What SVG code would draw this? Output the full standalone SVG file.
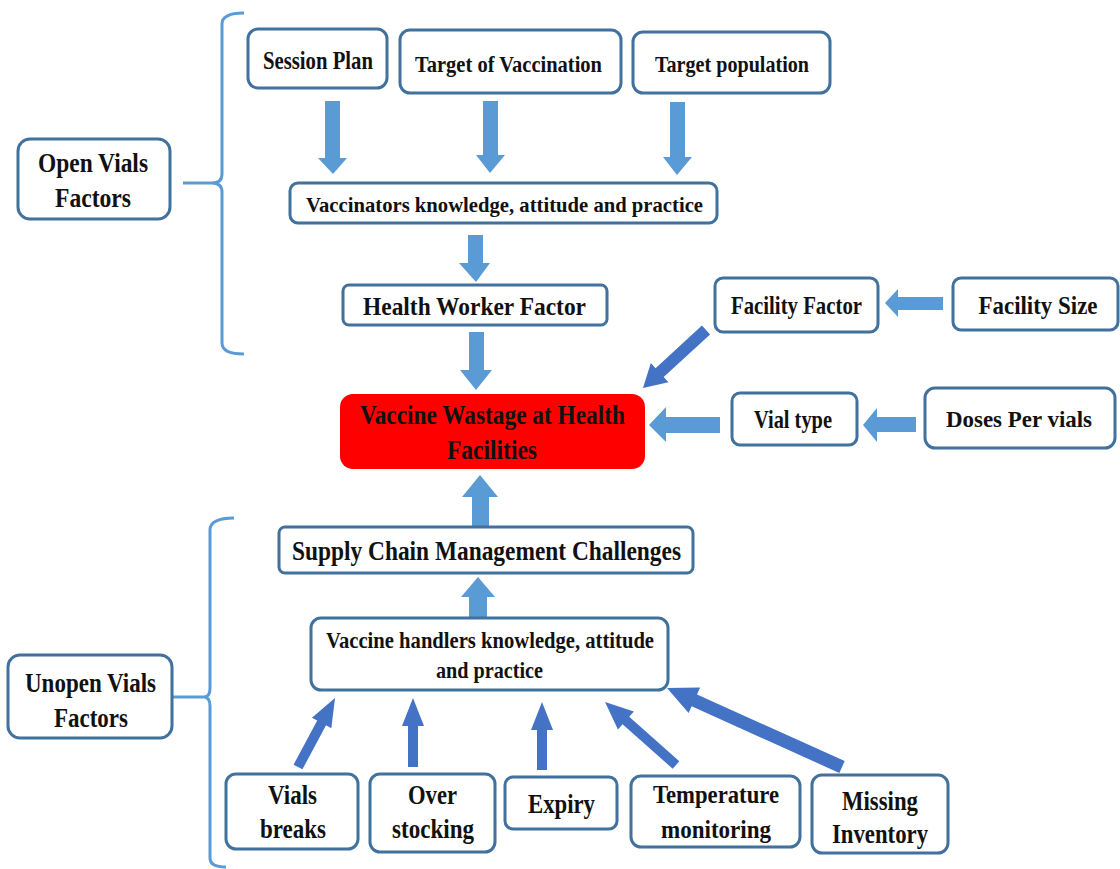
<svg xmlns="http://www.w3.org/2000/svg" width="1120" height="869" viewBox="0 0 1120 869">
<style>
.box{fill:#ffffff;stroke:#41719c;stroke-width:3}
.t{font-family:"Liberation Serif","Times New Roman",serif;font-weight:bold;fill:#111;text-anchor:middle}
.br{fill:none;stroke:#5b9bd5;stroke-width:3}
.a1{fill:#5b9bd5}
.a2{fill:#4472c4}
</style>
<rect width="1120" height="869" fill="#ffffff"/>

<g id="brackets">
<path class="br" d="M244,13 Q222,13 222,24 L222,174 Q222,183 212,183 Q222,183 222,192 L222,343 Q222,354 244,354"/>
<path class="br" d="M183,183 L212,183"/>
<path class="br" d="M234,518 Q210,518 210,530 L210,688 Q210,697 204,697 Q210,697 210,706 L210,858 Q210,867 226,867"/>
<path class="br" d="M172,697 L204,697"/>
</g>

<g id="connectors">
<polygon class="a1" points="325,101 340,101 340,158 347,158 333,174 318,158 325,158"/>
<polygon class="a1" points="483,101 498,101 498,155 505,155 490,173 476,155 483,155"/>
<polygon class="a1" points="670,102 685,102 685,157 692,157 677,175 663,157 670,157"/>
<polygon class="a1" points="468,235 483,235 483,263 490,263 476,282 459,263 468,263"/>
<polygon class="a1" points="469,332 484,332 484,370 492,370 476,390 460,370 469,370"/>
<polygon class="a1" points="472,526 489,526 489,497 498,497 480,475 462,497 472,497"/>
<polygon class="a1" points="469,618 487,618 487,597 495,597 478,577 461,597 469,597"/>
<polygon class="a1" points="943,297 898,297 898,289 885,303 898,317 898,310 943,310"/>
<polygon class="a1" points="916,417 877,417 877,408 863,425 877,442 877,432 916,432"/>
<polygon class="a1" points="720,417 666,417 666,407 649,425 666,442 666,433 720,433"/>
<path class="a2" transform="translate(706,330) rotate(137.4)" d="M0,-6 L63,-6 L63,-13 L85.6,0 L63,13 L63,6 L0,6 Z"/>
<path class="a2" transform="translate(298,767) rotate(-61.8)" d="M0,-5 L50,-5 L50,-11 L78.3,0 L50,11 L50,5 L0,5 Z"/>
<path class="a2" transform="translate(413,767) rotate(-90)" d="M0,-5 L41,-5 L41,-11 L69,0 L41,11 L41,5 L0,5 Z"/>
<path class="a2" transform="translate(542,770) rotate(-90)" d="M0,-5 L40,-5 L40,-11 L68,0 L40,11 L40,5 L0,5 Z"/>
<path class="a2" transform="translate(676,765) rotate(-138.4)" d="M0,-5 L67,-5 L67,-12 L94.9,0 L67,12 L67,5 L0,5 Z"/>
<path class="a2" transform="translate(842,767) rotate(-155.7)" d="M0,-6.5 L162,-6.5 L162,-14 L192,0 L162,14 L162,6.5 L0,6.5 Z"/>
</g>

<g id="open-vials-factors">
<rect class="box" x="18" y="139" width="152" height="80" rx="12"/>
<text class="t" x="93" y="172" font-size="28" textLength="110" lengthAdjust="spacingAndGlyphs">Open Vials</text>
<text class="t" x="93" y="207" font-size="28" textLength="76" lengthAdjust="spacingAndGlyphs">Factors</text>
</g>

<g id="session-plan">
<rect class="box" x="248" y="29" width="139" height="59" rx="10"/>
<text class="t" x="318" y="69" font-size="25" textLength="110" lengthAdjust="spacingAndGlyphs">Session Plan</text>
</g>

<g id="target-of-vaccination">
<rect class="box" x="400" y="30" width="221" height="63" rx="10"/>
<text class="t" x="508.5" y="72" font-size="24" textLength="187" lengthAdjust="spacingAndGlyphs">Target of Vaccination</text>
</g>

<g id="target-population">
<rect class="box" x="633" y="32" width="197" height="61" rx="10"/>
<text class="t" x="732" y="72" font-size="24" textLength="154" lengthAdjust="spacingAndGlyphs">Target population</text>
</g>

<g id="vaccinators-kap">
<rect class="box" x="290" y="183" width="427" height="40" rx="8"/>
<text class="t" x="504.5" y="212" font-size="22" textLength="397" lengthAdjust="spacingAndGlyphs">Vaccinators knowledge, attitude and practice</text>
</g>

<g id="health-worker-factor">
<rect class="box" x="343" y="285" width="264" height="40" rx="6"/>
<text class="t" x="474.5" y="315" font-size="25" textLength="223" lengthAdjust="spacingAndGlyphs">Health Worker Factor</text>
</g>

<g id="facility-factor">
<rect class="box" x="715" y="278" width="163" height="54" rx="8"/>
<text class="t" x="796.5" y="314" font-size="25" textLength="131" lengthAdjust="spacingAndGlyphs">Facility Factor</text>
</g>

<g id="facility-size">
<rect class="box" x="953" y="278" width="165" height="52" rx="8"/>
<text class="t" x="1038" y="314" font-size="25" textLength="119" lengthAdjust="spacingAndGlyphs">Facility Size</text>
</g>

<g id="vaccine-wastage">
<rect x="340" y="394" width="305" height="75" rx="13" fill="#ff0000"/>
<text class="t" x="492.5" y="424" font-size="28" textLength="265" lengthAdjust="spacingAndGlyphs">Vaccine Wastage at Health</text>
<text class="t" x="492" y="459" font-size="28" textLength="90" lengthAdjust="spacingAndGlyphs">Facilities</text>
</g>

<g id="vial-type">
<rect class="box" x="732" y="393" width="125" height="52" rx="8"/>
<text class="t" x="793" y="428" font-size="25" textLength="78" lengthAdjust="spacingAndGlyphs">Vial type</text>
</g>

<g id="doses-per-vials">
<rect class="box" x="925" y="388" width="190" height="60" rx="10"/>
<text class="t" x="1019" y="427" font-size="24" textLength="146" lengthAdjust="spacingAndGlyphs">Doses Per vials</text>
</g>

<g id="supply-chain">
<rect class="box" x="279" y="527" width="414" height="46" rx="6"/>
<text class="t" x="486.5" y="560" font-size="27" textLength="389" lengthAdjust="spacingAndGlyphs">Supply Chain Management Challenges</text>
</g>

<g id="vaccine-handlers-kap">
<rect class="box" x="311" y="618" width="357" height="72" rx="10"/>
<text class="t" x="490" y="648" font-size="24" textLength="328" lengthAdjust="spacingAndGlyphs">Vaccine handlers  knowledge, attitude</text>
<text class="t" x="489.5" y="678" font-size="24" textLength="107" lengthAdjust="spacingAndGlyphs">and practice</text>
</g>

<g id="unopen-vials-factors">
<rect class="box" x="8" y="655" width="164" height="83" rx="12"/>
<text class="t" x="90.5" y="692" font-size="27" textLength="131" lengthAdjust="spacingAndGlyphs">Unopen Vials</text>
<text class="t" x="91" y="727" font-size="27" textLength="74" lengthAdjust="spacingAndGlyphs">Factors</text>
</g>

<g id="vials-breaks">
<rect class="box" x="226" y="774" width="132" height="75" rx="10"/>
<text class="t" x="292.5" y="804" font-size="27" textLength="49" lengthAdjust="spacingAndGlyphs">Vials</text>
<text class="t" x="293" y="838" font-size="27" textLength="66" lengthAdjust="spacingAndGlyphs">breaks</text>
</g>

<g id="over-stocking">
<rect class="box" x="370" y="774" width="125" height="78" rx="10"/>
<text class="t" x="432.5" y="804" font-size="27" textLength="49" lengthAdjust="spacingAndGlyphs">Over</text>
<text class="t" x="433" y="838" font-size="27" textLength="82" lengthAdjust="spacingAndGlyphs">stocking</text>
</g>

<g id="expiry">
<rect class="box" x="505" y="777" width="112" height="52" rx="8"/>
<text class="t" x="561.5" y="813" font-size="27" textLength="67" lengthAdjust="spacingAndGlyphs">Expiry</text>
</g>

<g id="temperature-monitoring">
<rect class="box" x="631" y="776" width="169" height="71" rx="10"/>
<text class="t" x="716" y="803" font-size="25" textLength="126" lengthAdjust="spacingAndGlyphs">Temperature</text>
<text class="t" x="716" y="838" font-size="25" textLength="110" lengthAdjust="spacingAndGlyphs">monitoring</text>
</g>

<g id="missing-inventory">
<rect class="box" x="812" y="775" width="136" height="78" rx="10"/>
<text class="t" x="880" y="810" font-size="27" textLength="76" lengthAdjust="spacingAndGlyphs">Missing</text>
<text class="t" x="880" y="843" font-size="27" textLength="96" lengthAdjust="spacingAndGlyphs">Inventory</text>
</g>
</svg>
